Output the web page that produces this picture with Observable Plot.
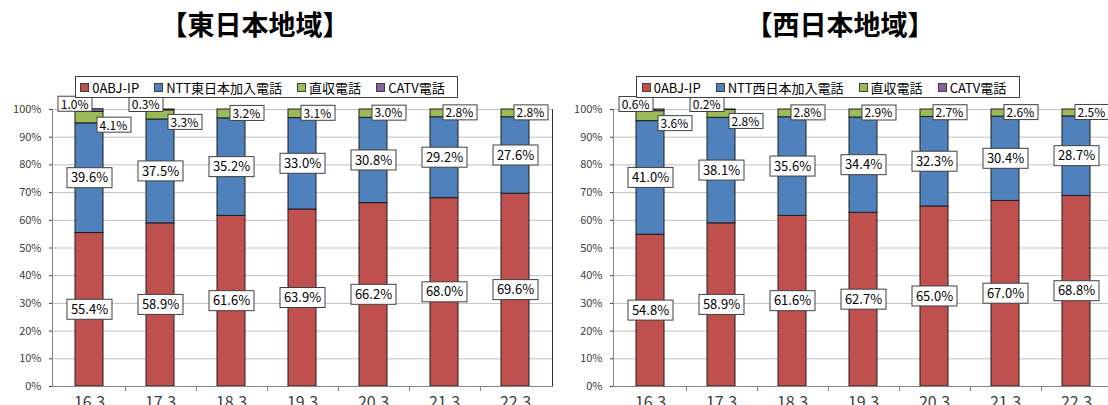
<!DOCTYPE html>
<html>
<head>
<meta charset="utf-8">
<script src="https://cdn.jsdelivr.net/npm/d3@7"></script>
<script src="https://cdn.jsdelivr.net/npm/@observablehq/plot@0.6"></script>
<style>
  body { margin: 0; background: #fff; }
  #root { position: relative; width: 1108px; height: 405px; overflow: hidden; background: #fff;
          font-family: "Noto Sans CJK JP", "Noto Sans", sans-serif; }
  .title { position: absolute; top: 9px; width: 340px; text-align: center; font-size: 27px;
           font-weight: 700; line-height: 30px; color: #000; white-space: nowrap; }
  .legend { position: absolute; top: 76px; height: 22px; box-sizing: border-box; border: 1px solid #404040;
            display: flex; align-items: center; justify-content: center; gap: 15px; font-size: 13px;
            color: #000; background: #fff; padding-right: 8px; }
  .legend .item { display: flex; align-items: center; white-space: nowrap; }
  .legend .sw { display: inline-block; width: 7px; height: 7px; border: 1px solid #404040; margin-right: 3px; }
  .chart { position: absolute; top: 60px; }
  .chart svg { max-width: none !important; display: block; }
</style>
</head>
<body>
<div id="root"></div>
<script>
// ---- data ----
const categories = ["16.3", "17.3", "18.3", "19.3", "20.3", "21.3", "22.3"];
const yTicks = [0, 10, 20, 30, 40, 50, 60, 70, 80, 90, 100];

const eastTitle = "【東日本地域】";
const eastSeries = ["0ABJ-IP", "NTT東日本加入電話", "直収電話", "CATV電話"];
const east0ABJ   = [55.4, 58.9, 61.6, 63.9, 66.2, 68.0, 69.6];
const eastNTT    = [39.6, 37.5, 35.2, 33.0, 30.8, 29.2, 27.6];
const eastDirect = [4.1, 3.3, 3.2, 3.1, 3.0, 2.8, 2.8];
const eastCATV   = [1.0, 0.3, 0, 0, 0, 0, 0];

const westTitle = "【西日本地域】";
const westSeries = ["0ABJ-IP", "NTT西日本加入電話", "直収電話", "CATV電話"];
const west0ABJ   = [54.8, 58.9, 61.6, 62.7, 65.0, 67.0, 68.8];
const westNTT    = [41.0, 38.1, 35.6, 34.4, 32.3, 30.4, 28.7];
const westDirect = [3.6, 2.8, 2.8, 2.9, 2.7, 2.6, 2.5];
const westCATV   = [0.6, 0.2, 0, 0, 0, 0, 0];

// ---- styles ----
const palette = ["#C0504D", "#4F81BD", "#9BBB59", "#8064A2"];
const FONT = '"Noto Sans CJK JP", "Noto Sans", sans-serif';
const PAD_INNER = 0.6;

function buildRows(series, arrays) {
  const rows = [];
  categories.forEach((cat, i) => {
    arrays.forEach((arr, si) => {
      rows.push({cat, series: series[si], si, value: arr[i], catv: arrays[3][i]});
    });
  });
  return rows;
}

function axesMark(index, scales, values, dim) {
  const {width, height, marginTop, marginRight, marginBottom, marginLeft} = dim;
  const x0 = marginLeft, x1 = width - marginRight, y0 = marginTop, y1 = height - marginBottom;
  const g = d3.create("svg:g").attr("fill", "none");
  const xs = scales.x;
  const step = xs.step ? xs.step() : (xs(categories[1]) - xs(categories[0]));
  g.append("line").attr("x1", x0 + 0.5).attr("x2", x0 + 0.5).attr("y1", y0).attr("y2", y1)
    .attr("stroke", "#868686");
  g.append("line").attr("x1", x1 - 0.5).attr("x2", x1 - 0.5).attr("y1", y0).attr("y2", y1 + 0.5)
    .attr("stroke", "#303030");
  g.append("line").attr("x1", x0).attr("x2", x1).attr("y1", y1 + 0.5).attr("y2", y1 + 0.5)
    .attr("stroke", "#868686");
  categories.forEach((c, i) => {
    if (i === 0) return;
    const bx = Math.round(xs(c) - step * PAD_INNER / 2) + 0.5;
    g.append("line").attr("x1", bx).attr("x2", bx).attr("y1", y1).attr("y2", y1 + 5)
      .attr("stroke", "#868686");
  });
  return g.node();
}

function boxifyGroup(group, padX, h) {
  group.querySelectorAll("text").forEach(t => {
    const bb = t.getBBox();
    if (!bb.width) return;
    const r = document.createElementNS("http://www.w3.org/2000/svg", "rect");
    const cy = bb.y + bb.height / 2 + 0.5;
    r.setAttribute("x", Math.round(bb.x - padX) + 0.5);
    r.setAttribute("y", Math.round(cy - h / 2) + 0.5);
    r.setAttribute("width", Math.round(bb.width + 2 * padX));
    r.setAttribute("height", h);
    r.setAttribute("fill", "#fff");
    r.setAttribute("stroke", "#404040");
    r.setAttribute("stroke-width", 1);
    const tr = t.getAttribute("transform");
    if (tr) r.setAttribute("transform", tr);
    t.parentNode.insertBefore(r, t);
  });
}

function makeChart({title, series, arrays, left, width, marginLeft, marginRight, titleCenter, legendLeft, legendWidth}) {
  const root = document.getElementById("root");
  const rows = buildRows(series, arrays);
  const fmt = d => d.value.toFixed(1) + "%";
  const base = {x: "cat", y: "value", z: "series", order: series};

  const t = document.createElement("div");
  t.className = "title";
  t.style.left = (titleCenter - 170) + "px";
  t.textContent = title;
  root.appendChild(t);

  const svg = Plot.plot({
    width, height: 360,
    marginTop: 49, marginBottom: 34, marginLeft, marginRight,
    style: {fontFamily: FONT, color: "#000", background: "transparent", overflow: "visible", maxWidth: "none"},
    x: {domain: categories, paddingInner: PAD_INNER, paddingOuter: PAD_INNER / 2, label: null},
    y: {domain: [0, 100], label: null},
    color: {domain: series, range: palette},
    marks: [
      Plot.gridY(yTicks, {stroke: "#c0c0c0", strokeOpacity: 1}),
      Plot.barY(rows, {...base, fill: "series", stroke: "#1e1e1e", strokeWidth: 1, filter: d => d.value > 0}),
      axesMark,
      Plot.axisY({ticks: yTicks, tickFormat: d => d + "%", tickSize: 3, tickPadding: 8, fontSize: 11,
                  color: "#404040", label: null}),
      Plot.axisX({tickSize: 0, tickPadding: 10, fontSize: 16, color: "#404040", label: null}),
      // main segment labels
      Plot.text(rows, Plot.stackY({...base, text: d => d.si < 2 ? fmt(d) : null,
        fontSize: 13, fill: "#000"})),
      // 直収 labels (no CATV)
      Plot.text(rows, Plot.stackY({...base, text: d => d.si === 2 && d.catv === 0 ? fmt(d) : null,
        textAnchor: "start", dx: 1, fontSize: 12, fill: "#000"})),
      // 直収 labels (with CATV)
      Plot.text(rows, Plot.stackY({...base, text: d => d.si === 2 && d.catv > 0 ? fmt(d) : null,
        textAnchor: "start", dx: 10, dy: 8, fontSize: 12, fill: "#000"})),
      // CATV labels
      Plot.text(rows, Plot.stackY2({...base, text: d => d.si === 3 && d.value > 0 ? fmt(d) : null,
        textAnchor: "end", dx: -1, dy: -4.5, fontSize: 12, fill: "#000"}))
    ]
  });

  const holder = document.createElement("div");
  holder.className = "chart";
  holder.style.left = left + "px";
  holder.style.width = width + "px";
  holder.appendChild(svg);
  root.appendChild(holder);

  const lg = document.createElement("div");
  lg.className = "legend";
  lg.style.left = legendLeft + "px";
  lg.style.width = legendWidth + "px";
  series.forEach((s, i) => {
    const it = document.createElement("span");
    it.className = "item";
    const sw = document.createElement("span");
    sw.className = "sw";
    sw.style.background = palette[i];
    it.appendChild(sw);
    it.appendChild(document.createTextNode(s));
    lg.appendChild(it);
  });
  root.appendChild(lg);

  const textGroups = svg.querySelectorAll('g[aria-label="text"]');
  const boxSpecs = [[4, 20], [3, 15], [3, 15], [3, 15]];
  textGroups.forEach((g, k) => {
    const [px, h] = boxSpecs[Math.min(k, boxSpecs.length - 1)];
    boxifyGroup(g, px, h);
  });
}

makeChart({
  title: eastTitle, series: eastSeries, arrays: [east0ABJ, eastNTT, eastDirect, eastCATV],
  left: 0, width: 554, marginLeft: 52, marginRight: 1,
  titleCenter: 255, legendLeft: 75, legendWidth: 383
});
makeChart({
  title: westTitle, series: westSeries, arrays: [west0ABJ, westNTT, westDirect, westCATV],
  left: 554, width: 560, marginLeft: 59, marginRight: 0,
  titleCenter: 840, legendLeft: 636, legendWidth: 384
});
</script>
</body>
</html>
